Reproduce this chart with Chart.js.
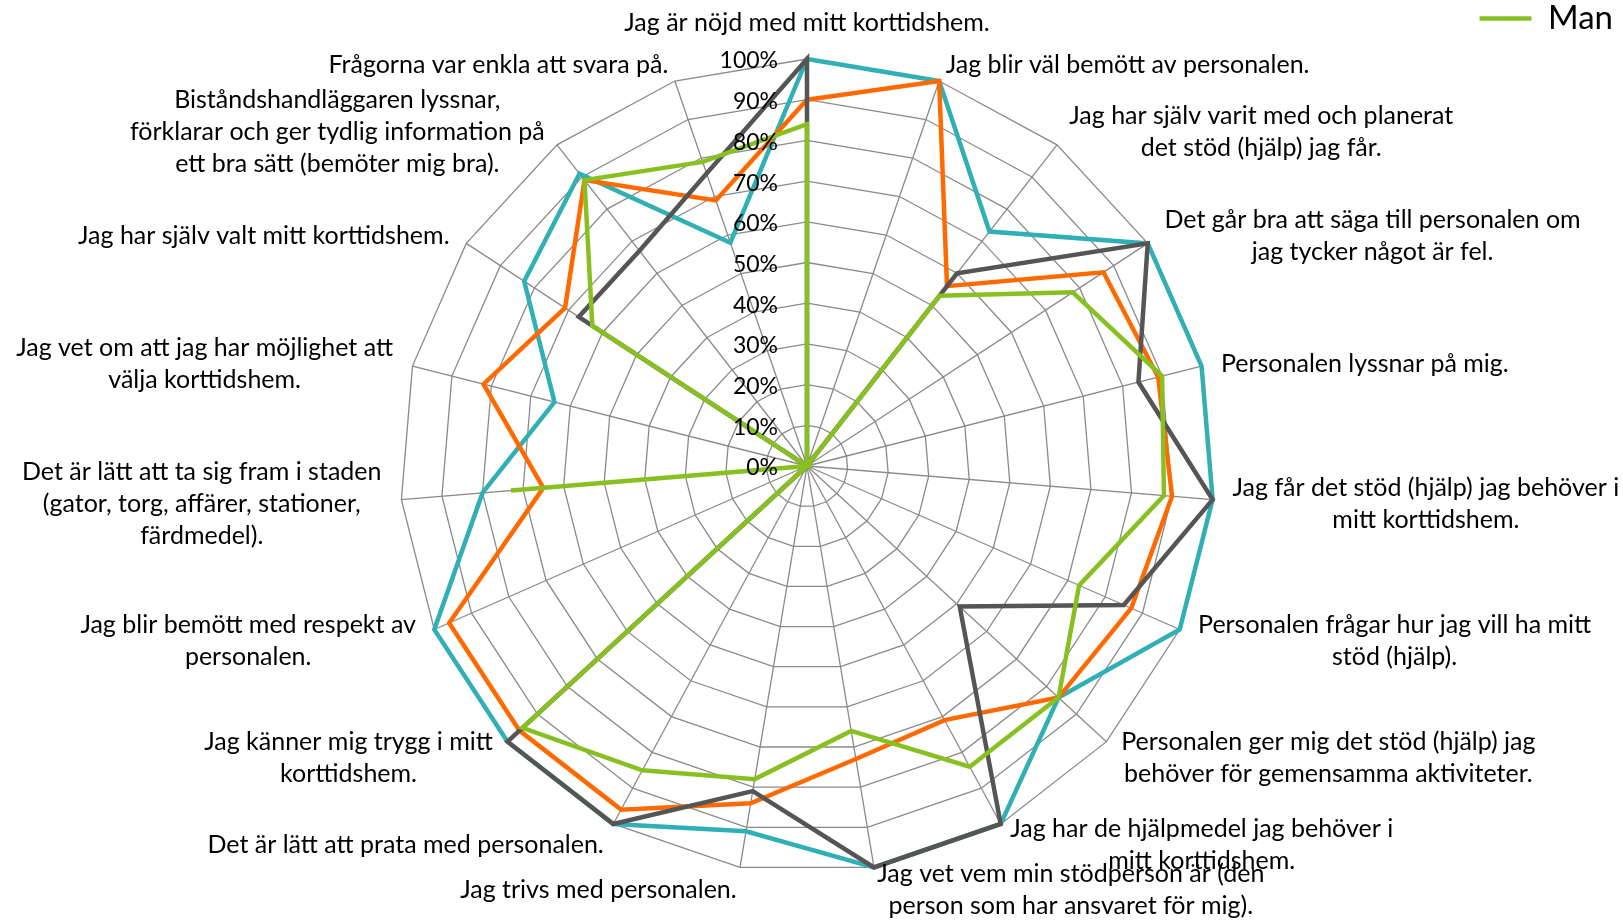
<!DOCTYPE html>
<html lang="sv">
<head>
<meta charset="utf-8">
<title>Korttidshem</title>
<script src="https://cdn.jsdelivr.net/npm/chart.js@4/dist/chart.umd.min.js"></script>
<style>
    html, body { margin: 0; padding: 0; background: #fff; }
    canvas { display: block; }
</style>
</head>
<body>
<canvas id="radarChart" width="1623" height="920"></canvas>
<script>
const questions = [
    'Jag är nöjd med mitt korttidshem.',
    'Jag blir väl bemött av personalen.',
    ['Jag har själv varit med och planerat', 'det stöd (hjälp) jag får.'],
    ['Det går bra att säga till personalen om', 'jag tycker något är fel.'],
    'Personalen lyssnar på mig.',
    ['Jag får det stöd (hjälp) jag behöver i', 'mitt korttidshem.'],
    ['Personalen frågar hur jag vill ha mitt', 'stöd (hjälp).'],
    ['Personalen ger mig det stöd (hjälp) jag', 'behöver för gemensamma aktiviteter.'],
    ['Jag har de hjälpmedel jag behöver i', 'mitt korttidshem.'],
    ['Jag vet vem min stödperson är (den', 'person som har ansvaret för mig).'],
    'Jag trivs med personalen.',
    'Det är lätt att prata med personalen.',
    ['Jag känner mig trygg i mitt', 'korttidshem.'],
    ['Jag blir bemött med respekt av', 'personalen.'],
    ['Det är lätt att ta sig fram i staden', '(gator, torg, affärer, stationer,', 'färdmedel).'],
    ['Jag vet om att jag har möjlighet att', 'välja korttidshem.'],
    'Jag har själv valt mitt korttidshem.',
    ['Biståndshandläggaren lyssnar,', 'förklarar och ger tydlig information på', 'ett bra sätt (bemöter mig bra).'],
    'Frågorna var enkla att svara på.'
];

// andel (%) per fråga
const man    = [84, 0, 53, 78, 90, 88, 73, 84, 84, 66, 78, 85, 95, 0, 73, 0, 63, 89, 79];
const pojke  = [100, 0, 60, 100, 84, 100, 85, 51, 100, 100, 81, 100, 100, 0, 0, 0, 67, 67, 76];
const kvinna = [90, 100, 56, 87, 89, 90, 87, 84, 71, 73, 84, 96, 96, 96, 65, 82, 71, 89, 69];
const flicka = [100, 100, 73, 100, 100, 100, 100, 84, 100, 100, 91, 100, 100, 100, 80, 64, 83, 91, 58];

const tickLabels = ['0%', '10%', '20%', '30%', '40%', '50%', '60%', '70%', '80%', '90%', '100%'];

const FONT = 'Lato';
const gridColor = '#8a8a8a';

function series(label, data, color) {
    return {
        label, data,
        borderColor: color,
        backgroundColor: color,
        borderWidth: 4.5,
        borderJoinStyle: 'miter',
        fill: false,
        pointRadius: 0,
        pointHoverRadius: 0,
        pointStyle: 'line'
    };
}

// frågetexter, centrerade rader som i Excel
const questionLabels = {
    id: 'questionLabels',
    afterDraw(chart) {
        const scale = chart.scales.r;
        const ctx = chart.ctx;
        const lineH = 32;
        ctx.save();
        ctx.font = `25px ${FONT}`;
        ctx.fillStyle = '#000';
        ctx.textAlign = 'center';
        ctx.textBaseline = 'middle';
        chart.data.labels.forEach((label, i) => {
            const lines = Array.isArray(label) ? label : [label];
            const p = scale.getPointPosition(i, scale.drawingArea + 20);
            const a = scale.getIndexAngle(i);
            const s = Math.sin(a), c = Math.cos(a);
            const w = Math.max(...lines.map(t => ctx.measureText(t).width));
            const h = lines.length * lineH;
            let cx = p.x, cy = p.y + 3;
            if (Math.abs(s) < 0.05) cy = c > 0 ? p.y - h / 2 : p.y + h / 2;
            else cx = s > 0 ? p.x + w / 2 : p.x - w / 2;
            lines.forEach((t, k) => ctx.fillText(t, cx, cy - h / 2 + lineH * (k + 0.5)));
        });
        ctx.restore();
    }
};

// procentetiketter till vänster om den lodräta axeln
const percentTicks = {
    id: 'percentTicks',
    afterDatasetsDraw(chart) {
        const scale = chart.scales.r;
        const ctx = chart.ctx;
        ctx.save();
        ctx.font = `23px ${FONT}`;
        ctx.fillStyle = '#000';
        ctx.textAlign = 'right';
        ctx.textBaseline = 'middle';
        scale.ticks.forEach((t, i) => {
            const d = scale.getDistanceFromCenterForValue(t.value);
            ctx.fillText(tickLabels[i], scale.xCenter - 29, scale.yCenter - d + 2);
        });
        ctx.restore();
    }
};

new Chart(document.getElementById('radarChart'), {
    type: 'radar',
    data: {
        labels: questions,
        datasets: [
            series('Man', man, '#88c022'),
            series('Pojke', pojke, '#555555'),
            series('Kvinna', kvinna, '#ff6a00'),
            series('Flicka', flicka, '#30b0b4')
        ]
    },
    options: {
        responsive: false,
        animation: false,
        layout: { padding: { right: 8 } },
        plugins: {
            legend: {
                position: 'top',
                align: 'end',
                labels: {
                    filter: item => item.datasetIndex === 0,
                    usePointStyle: true,
                    pointStyleWidth: 52,
                    padding: 2,
                    color: '#000',
                    font: { family: FONT, size: 33 }
                }
            },
            tooltip: { enabled: false }
        },
        scales: {
            r: {
                min: 0,
                max: 100,
                ticks: { stepSize: 10, display: false },
                grid: { color: gridColor, lineWidth: 1.3 },
                angleLines: { color: gridColor, lineWidth: 1.3 },
                pointLabels: { display: false },
                afterFit: (scale) => {
                    scale.xCenter = 807;
                    scale.yCenter = 466;
                    scale.drawingArea = 407;
                }
            }
        }
    },
    plugins: [questionLabels, percentTicks]
});
</script>
</body>
</html>
